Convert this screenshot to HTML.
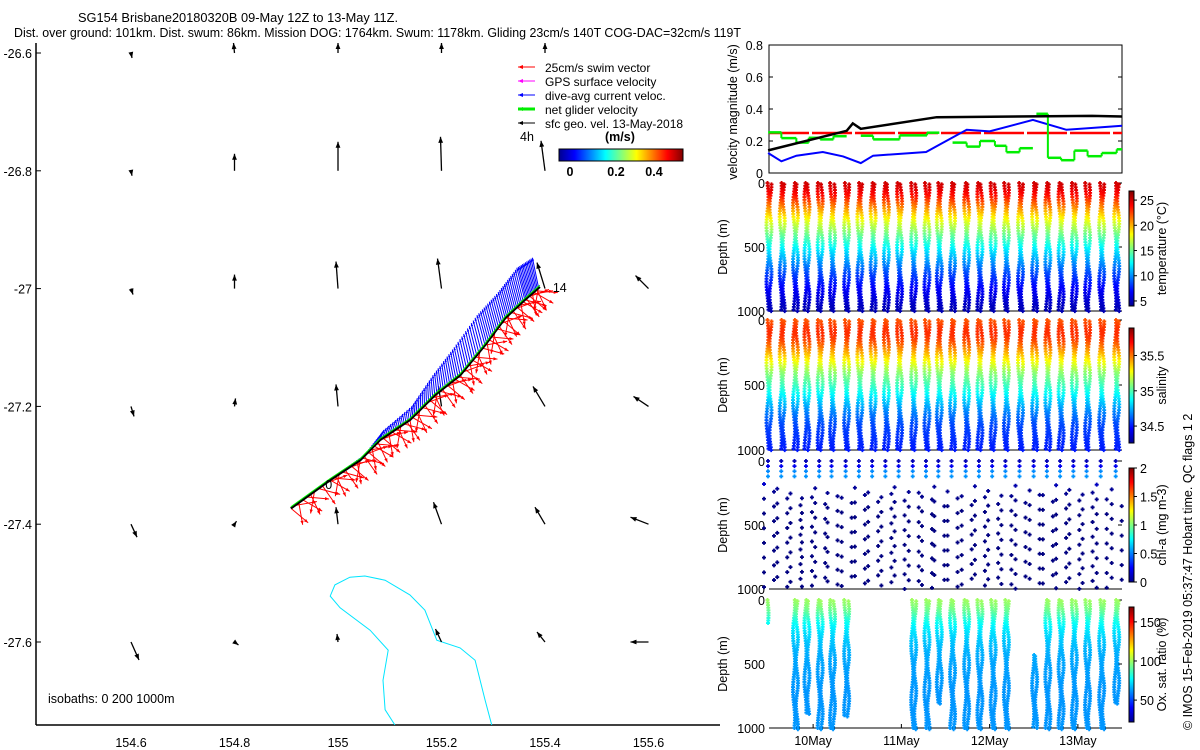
<!DOCTYPE html>
<html><head><meta charset="utf-8">
<style>
html,body{margin:0;padding:0;background:#fff;}
svg{display:block;font-family:"Liberation Sans",sans-serif;}
text{fill:#000;}
</style></head>
<body>
<svg id="chart" width="1200" height="750" viewBox="0 0 1200 750" xmlns="http://www.w3.org/2000/svg">
<defs>
<linearGradient id="jetV" x1="0" y1="1" x2="0" y2="0">
<stop offset="0" stop-color="#00008f"/><stop offset="0.125" stop-color="#0000ff"/><stop offset="0.375" stop-color="#00ffff"/><stop offset="0.625" stop-color="#ffff00"/><stop offset="0.875" stop-color="#ff0000"/><stop offset="1" stop-color="#800000"/>
</linearGradient>
<linearGradient id="jetH" x1="0" y1="0" x2="1" y2="0">
<stop offset="0" stop-color="#00008f"/><stop offset="0.125" stop-color="#0000ff"/><stop offset="0.375" stop-color="#00ffff"/><stop offset="0.625" stop-color="#ffff00"/><stop offset="0.875" stop-color="#ff0000"/><stop offset="1" stop-color="#800000"/>
</linearGradient>
<clipPath id="mapClip"><rect x="36" y="42" width="684" height="683"/></clipPath>
</defs>
<text x="78" y="22" font-size="12.5" textLength="320" lengthAdjust="spacingAndGlyphs">SG154 Brisbane20180320B 09-May 12Z to 13-May 11Z.</text>
<text x="14" y="37" font-size="12.5" textLength="727" lengthAdjust="spacingAndGlyphs">Dist. over ground: 101km. Dist. swum: 86km. Mission DOG: 1764km. Swum: 1178km. Gliding 23cm/s 140T COG-DAC=32cm/s 119T</text>
<text x="0" y="0" font-size="12.5" transform="translate(1192,730) rotate(-90)">© IMOS 15-Feb-2019 05:37:47 Hobart time. QC flags 1  2</text>
<g id="mapG"></g>
<g id="velG"></g>
<g id="depthG"></g>
</svg>
<script>
// ---------- DATA ----------
const geoLons=[154.6,154.8,155.0,155.2,155.4,155.6];
const geoLats=[-26.6,-26.8,-27.0,-27.2,-27.4,-27.6];
const geoU=[[0.01,-0.01,0,0,0,0],[0.01,0,0,-0.01,-0.04,0],[0.02,0,-0.02,-0.04,-0.08,-0.13],[0.03,0.01,-0.02,-0.03,-0.12,-0.15],[0.06,0.02,-0.02,-0.08,-0.10,-0.18],[0.08,0.04,-0.01,-0.06,-0.08,-0.18]];
const geoV=[[-0.05,0.10,0.10,0.10,0.10,0],[-0.05,0.17,0.29,0.34,0.30,0],[-0.06,0.14,0.27,0.30,0.26,0.13],[-0.10,0.08,0.22,0.20,0.20,0.10],[-0.13,0.03,0.17,0.22,0.17,0.07],[-0.18,-0.03,0.08,0.13,0.10,0]];
const trackLon=[154.909,154.985,155.043,155.081,155.139,155.187,155.236,155.284,155.323,155.361,155.390];
const trackLat=[-27.373,-27.325,-27.291,-27.257,-27.223,-27.181,-27.147,-27.096,-27.050,-27.019,-26.997];
const curU=[0.06,0.07,0.06,0.04,0.02,-0.02,-0.06,-0.08,-0.07,-0.08,-0.06];
const curV=[0.05,0.05,0.06,0.10,0.14,0.20,0.28,0.30,0.26,0.32,0.30];
const swimAngles=[15,-35,55,5,-20,40,75,-10,30,-45];
const isoLon=[155.110,155.091,155.087,155.097,155.062,155.004,154.985,154.994,155.023,155.052,155.091,155.139,155.168,155.191,155.236,155.265,155.284,155.298];
const isoLat=[-27.741,-27.715,-27.665,-27.614,-27.580,-27.542,-27.522,-27.503,-27.490,-27.488,-27.495,-27.520,-27.546,-27.597,-27.610,-27.631,-27.698,-27.744];
const mapXTicks=[154.6,154.8,155,155.2,155.4,155.6];
const mapYTicks=[-26.6,-26.8,-27,-27.2,-27.4,-27.6];

const blackT=[9.49,10.38,10.45,10.54,11.40,13.16,13.50];
const blackV=[0.141,0.264,0.310,0.276,0.349,0.357,0.353];
const blueT=[9.49,9.64,9.81,10.11,10.34,10.54,10.68,11.28,11.43,11.74,12.00,12.49,12.87,13.50];
const blueV=[0.125,0.073,0.108,0.131,0.104,0.062,0.108,0.131,0.177,0.270,0.260,0.332,0.270,0.295];
const swimTarget=0.25;
const greenStart=[9.49,9.64,9.81,9.95,10.08,10.23,10.54,10.68,10.98,11.29,11.58,11.74,11.89,12.06,12.19,12.34,12.53,12.66,12.81,12.96,13.11,13.27,13.44];
const greenEnd=[9.64,9.81,9.95,10.08,10.23,10.38,10.68,10.98,11.29,11.43,11.74,11.89,12.06,12.19,12.34,12.49,12.66,12.81,12.96,13.11,13.27,13.44,13.50];
const greenVal=[0.254,0.218,0.190,0.220,0.210,0.230,0.233,0.210,0.235,0.252,0.190,0.165,0.200,0.170,0.130,0.155,0.370,0.095,0.080,0.140,0.105,0.125,0.148];
const velTicks=[0,0.2,0.4,0.6,0.8];

const diveT=[9.50,9.65,9.80,9.93,10.08,10.22,10.38,10.53,10.68,10.83,10.98,11.14,11.29,11.43,11.58,11.74,11.89,12.04,12.19,12.35,12.51,12.66,12.81,12.96,13.11,13.27,13.44];
const profDepth=[0,50,100,150,200,300,400,500,600,700,800,1000];
const tempProf=[25,24.5,23.5,22,20.5,17.5,15,12.5,10.5,8.5,7,5];
const salProf=[35.55,35.6,35.62,35.58,35.5,35.3,35.1,34.97,34.82,34.68,34.58,34.5];
const chlProf=[0.1,0.25,0.7,0.3,0.05,0.02,0,0,0,0,0,0];
const oxProf=[100,96,90,82,76,70,66,64,63,62,62,62];
const oxDiveT=[9.50,9.80,9.93,10.08,10.22,10.38,11.14,11.29,11.43,11.58,11.74,11.89,12.04,12.19,12.51,12.66,12.81,12.96,13.11,13.27,13.44];
const oxTop=[0,0,0,0,0,0,0,0,0,0,0,0,0,0,430,0,0,0,0,0,0];
const oxBot=[180,1000,880,1000,1000,900,1000,1000,800,1000,1000,1000,1000,1000,1000,1000,1000,1000,1000,1000,800];
const dateTicks=[10,11,12,13];
const dateLabels=['10May','11May','12May','13May'];
const depthTicks=[0,500,1000];
const tempCbTicks=[5,10,15,20,25];
const salCbTicks=[34.5,35,35.5];
const chlCbTicks=[0,0.5,1,1.5,2];
const oxCbTicks=[50,100,150];

// ---------- HELPERS ----------
const NS='http://www.w3.org/2000/svg';
function mk(tag,attrs,name,parent){
  const el=document.createElementNS(NS,tag);
  for(const k in attrs) el.setAttribute(k,attrs[k]);
  
  
  parent.appendChild(el);
  return el;
}
function txt(s,x,y,name,parent,extra){
  const a=Object.assign({x:x,y:y,'font-size':12.5},extra||{});
  const el=mk('text',a,name,parent);
  el.textContent=s;
  return el;
}
function jet(t){
  t=Math.max(0,Math.min(1,t));
  const c=v=>Math.round(255*Math.max(0,Math.min(1,v)));
  return 'rgb('+c(1.5-Math.abs(4*t-3))+','+c(1.5-Math.abs(4*t-2))+','+c(1.5-Math.abs(4*t-1))+')';
}
function interp(xs,ys,x){
  if(x<=xs[0])return ys[0];
  for(let i=1;i<xs.length;i++){ if(x<=xs[i]){const f=(x-xs[i-1])/(xs[i]-xs[i-1]);return ys[i-1]+f*(ys[i]-ys[i-1]);} }
  return ys[ys.length-1];
}
function arrow(x1,y1,x2,y2,color,w,hs,name,parent){
  mk('line',{x1:x1,y1:y1,x2:x2,y2:y2,stroke:color,'stroke-width':w},name,parent);
  const dx=x2-x1,dy=y2-y1,L=Math.hypot(dx,dy);
  if(L<0.5)return;
  const ux=dx/L,uy=dy/L;
  const bx=x2-ux*hs,by=y2-uy*hs;
  mk('polygon',{points:x2+','+y2+' '+(bx-uy*hs*0.4)+','+(by+ux*hs*0.4)+' '+(bx+uy*hs*0.4)+','+(by-ux*hs*0.4),fill:color},name+'-head',parent);
}

// ---------- MAP ----------
const mapG=document.getElementById('mapG');
const mapX=lon=>131+(lon-154.6)*517.5;
const mapY=lat=>53+(-26.6-lat)*589;
mk('line',{x1:36,y1:43,x2:36,y2:725,stroke:'#000','stroke-width':1.5},'map-y-axis',mapG);
mk('line',{x1:36,y1:725,x2:720,y2:725,stroke:'#000','stroke-width':1.5},'map-x-axis',mapG);
mapYTicks.forEach(v=>{
  mk('line',{x1:36,y1:mapY(v),x2:41,y2:mapY(v),stroke:'#000'},'map-y-tick',mapG);
  txt(String(v),32,mapY(v)+5,'map-y-tick-label',mapG,{'text-anchor':'end'});
});
mapXTicks.forEach(v=>{
  txt(String(v),mapX(v),747,'map-x-tick-label',mapG,{'text-anchor':'middle'});
});
const clipG=mk('g',{'clip-path':'url(#mapClip)'},'map-plot-area',mapG);
let isoD='';
isoLon.forEach((lo,i)=>{isoD+=(i?'L':'M')+mapX(lo).toFixed(1)+' '+mapY(isoLat[i]).toFixed(1);});
mk('path',{d:isoD,fill:'none',stroke:'#00e5ff','stroke-width':1},'isobath-contour',clipG);
geoLats.forEach((la,r)=>{geoLons.forEach((lo,c)=>{
  const x=mapX(lo),y=mapY(la);
  arrow(x,y,x+geoU[r][c]*100,y-geoV[r][c]*100,'#000',1.3,6,'geo-velocity-arrow',clipG);
});});
for(let i=0;i<trackLon.length-1;i++){
  for(let k=0;k<10;k++){
    const f=k/10;
    const x=mapX(trackLon[i]+f*(trackLon[i+1]-trackLon[i]));
    const y=mapY(trackLat[i]+f*(trackLat[i+1]-trackLat[i]));
    const a=(25+swimAngles[(k+i*3)%swimAngles.length])*Math.PI/180;
    const L=swimTarget*90;
    arrow(x,y,x+Math.cos(a)*L,y+Math.sin(a)*L,'#ff0000',1,4,'swim-vector',clipG);
  }
}
for(let i=0;i<trackLon.length-1;i++){
  for(let k=0;k<12;k++){
    const f=k/12;
    const x=mapX(trackLon[i]+f*(trackLon[i+1]-trackLon[i]));
    const y=mapY(trackLat[i]+f*(trackLat[i+1]-trackLat[i]));
    const u=curU[i]+f*(curU[i+1]-curU[i]), v=curV[i]+f*(curV[i+1]-curV[i]);
    arrow(x,y,x+u*100,y-v*100,'#0000ff',1,3,'dive-avg-current-vector',clipG);
  }
}
let trD='';
trackLon.forEach((lo,i)=>{trD+=(i?'L':'M')+mapX(lo).toFixed(1)+' '+mapY(trackLat[i]).toFixed(1);});
mk('path',{d:trD,fill:'none',stroke:'#000','stroke-width':2.5},'glider-track',clipG);
mk('path',{d:trD,fill:'none',stroke:'#00ee00','stroke-width':1,transform:'translate(0,-1.5)'},'net-glider-velocity',clipG);
txt('14',mapX(trackLon[10])+13,mapY(trackLat[10])+5,'track-end-label',clipG);
txt('0',mapX(trackLon[1])-5,mapY(trackLat[1])+9,'track-start-label',clipG);
txt('isobaths: 0   200  1000m',48,703,'isobath-note',mapG);
const legItems=[['#ff0000','25cm/s swim vector',1],['#ff00ff','GPS surface velocity',1],['#0000ff','dive-avg current veloc.',1],['#00ee00','net glider velocity',3],['#000','sfc geo. vel. 13-May-2018',1]];
legItems.forEach((it,i)=>{
  const y=67+i*14;
  arrow(535,y,518,y,it[0],it[2],5,'legend-arrow',mapG);
  txt(it[1],545,y+5,'legend-entry',mapG,{'font-size':12});
});
txt('4h',520,141,'legend-time-scale',mapG);
txt('(m/s)',605,141,'colorbar-units',mapG,{'font-weight':'bold'});
mk('rect',{x:559,y:149,width:124,height:12,fill:'url(#jetH)',stroke:'#000'},'speed-colorbar',mapG);
[[0,570],[0.2,616],[0.4,654]].forEach(p=>{
  txt(String(p[0]),p[1],176,'speed-colorbar-label',mapG,{'text-anchor':'middle','font-weight':'bold'});
});

// ---------- VELOCITY PANEL ----------
const velG=document.getElementById('velG');
const tX=t=>769+(t-9.5)*88.25;
const velY=v=>173-v*160;
mk('rect',{x:769,y:45,width:353,height:128,fill:'none',stroke:'#000'},'velocity-frame',velG);
velTicks.forEach(v=>{
  mk('line',{x1:769,y1:velY(v),x2:773,y2:velY(v),stroke:'#000'},'velocity-tick',velG);
  mk('line',{x1:1118,y1:velY(v),x2:1122,y2:velY(v),stroke:'#000'},'velocity-tick-right',velG);
  txt(String(v),763,velY(v)+5,'velocity-tick-label',velG,{'text-anchor':'end'});
});
txt('velocity magnitude (m/s)',0,0,'velocity-y-axis-title',velG,{transform:'translate(737,112) rotate(-90)','text-anchor':'middle'});
mk('line',{x1:tX(9.5),y1:velY(swimTarget),x2:tX(13.5),y2:velY(swimTarget),stroke:'#ff0000','stroke-width':2.5,'stroke-dasharray':'40 3'},'swim-target-line',velG);
let bd='';blueT.forEach((t,i)=>{bd+=(i?'L':'M')+tX(t).toFixed(1)+' '+velY(blueV[i]).toFixed(1);});
mk('path',{d:bd,fill:'none',stroke:'#0000ff','stroke-width':2},'dive-avg-current-line',velG);
greenStart.forEach((s,i)=>{
  mk('line',{x1:tX(s),y1:velY(greenVal[i]),x2:tX(greenEnd[i]),y2:velY(greenVal[i]),stroke:'#00ee00','stroke-width':2.5},'net-velocity-step',velG);
  if(i>0 && Math.abs(greenStart[i]-greenEnd[i-1])<0.01){
    mk('line',{x1:tX(s),y1:velY(greenVal[i-1]),x2:tX(s),y2:velY(greenVal[i]),stroke:'#00ee00','stroke-width':2},'net-velocity-riser',velG);
  }
});
let kd='';blackT.forEach((t,i)=>{kd+=(i?'L':'M')+tX(t).toFixed(1)+' '+velY(blackV[i]).toFixed(1);});
mk('path',{d:kd,fill:'none',stroke:'#000','stroke-width':2.5},'geo-velocity-line',velG);

// ---------- DEPTH PANELS ----------
const depthG=document.getElementById('depthG');
const panels=[
 {top:183,bot:311,cbTop:191,cbBot:306,min:4.0,max:26.8,ticks:tempCbTicks,label:'temperature (°C)',name:'temperature'},
 {top:320,bot:450,cbTop:328,cbBot:443,min:34.26,max:35.89,ticks:salCbTicks,label:'salinity',name:'salinity'},
 {top:461,bot:589,cbTop:468,cbBot:582,min:0,max:2,ticks:chlCbTicks,label:'chl-a (mg m-3)',name:'chlorophyll'},
 {top:600,bot:728,cbTop:607,cbBot:722,min:22,max:169,ticks:oxCbTicks,label:'Ox. sat. ratio (%)',name:'oxygen'}
];
const dY=(p,d)=>p.top+d/1000*(p.bot-p.top);
function marker(x,y,color,name,g){
  mk('path',{d:'M'+(x-2)+' '+y+'h4M'+x+' '+(y-2)+'v4',stroke:color,'stroke-width':1.8},name,g);
}
panels.forEach((p,pi)=>{
  const g=mk('g',{},p.name+'-panel',depthG);
  mk('line',{x1:769,y1:p.bot,x2:1122,y2:p.bot,stroke:'#000'},p.name+'-x-axis',g);
  depthTicks.forEach(d=>{
    txt(String(d),765,dY(p,d)+5,p.name+'-depth-tick-label',g,{'text-anchor':'end'});
    mk('line',{x1:1118,y1:dY(p,d),x2:1122,y2:dY(p,d),stroke:'#000'},p.name+'-depth-tick',g);
  });
  txt('Depth (m)',0,0,p.name+'-y-axis-title',g,{transform:'translate(727,'+((p.top+p.bot)/2)+') rotate(-90)','text-anchor':'middle'});
  mk('rect',{x:1129,y:p.cbTop,width:5,height:p.cbBot-p.cbTop,fill:'url(#jetV)',stroke:'#000'},p.name+'-colorbar',g);
  p.ticks.forEach(v=>{
    const y=p.cbBot-(v-p.min)/(p.max-p.min)*(p.cbBot-p.cbTop);
    mk('line',{x1:1134,y1:y,x2:1137,y2:y,stroke:'#000'},p.name+'-colorbar-tick',g);
    txt(String(v),1140,y+5,p.name+'-colorbar-label',g);
  });
  txt(p.label,0,0,p.name+'-colorbar-title',g,{transform:'translate(1166,'+((p.cbTop+p.cbBot)/2)+') rotate(-90)','text-anchor':'middle'});
  const col=v=>jet((v-p.min)/(p.max-p.min));
  if(pi<2){
    const prof=pi===0?tempProf:salProf;
    diveT.forEach((t,i)=>{
      const xc=tX(t);
      for(let d=0;d<=990;d+=22){
        const c=col(interp(profDepth,prof,d));
        marker(xc-1.5+Math.sin(d/70+i),dY(p,d),c,p.name+'-sample',g);
        marker(xc+1.5+Math.cos(d/55+i),dY(p,d+11),c,p.name+'-sample',g);
      }
    });
  } else if(pi===2){
    diveT.forEach((t,i)=>{
      const xc=tX(t);
      for(let d=0;d<=150;d+=40){ marker(xc-1,dY(p,d),col(interp(profDepth,chlProf,d)),'chl-sample',g); }
      const off=(i*37)%115;
      for(let d=180+off;d<=1000;d+=115){ marker(xc-5,dY(p,d),col(interp(profDepth,chlProf,d)),'chl-sample',g); }
      for(let d=240+((i*53)%115);d<=1000;d+=115){ marker(xc+5,dY(p,d),col(interp(profDepth,chlProf,d)),'chl-sample',g); }
    });
  } else {
    oxDiveT.forEach((t,i)=>{
      const xc=tX(t);
      for(let d=oxTop[i];d<=oxBot[i];d+=20){
        const c=col(interp(profDepth,oxProf,d));
        marker(xc-1.5+Math.sin(d/70+i),dY(p,d),c,'oxygen-sample',g);
        if(oxBot[i]>300) marker(xc+1.5+Math.cos(d/55+i),dY(p,d+10),c,'oxygen-sample',g);
      }
    });
    dateTicks.forEach((t,i)=>{
      mk('line',{x1:tX(t),y1:p.bot,x2:tX(t),y2:p.bot-4,stroke:'#000'},'date-tick',g);
      txt(dateLabels[i],tX(t),745,'date-tick-label',g,{'text-anchor':'middle'});
    });
  }
});
</script>
</body></html>
